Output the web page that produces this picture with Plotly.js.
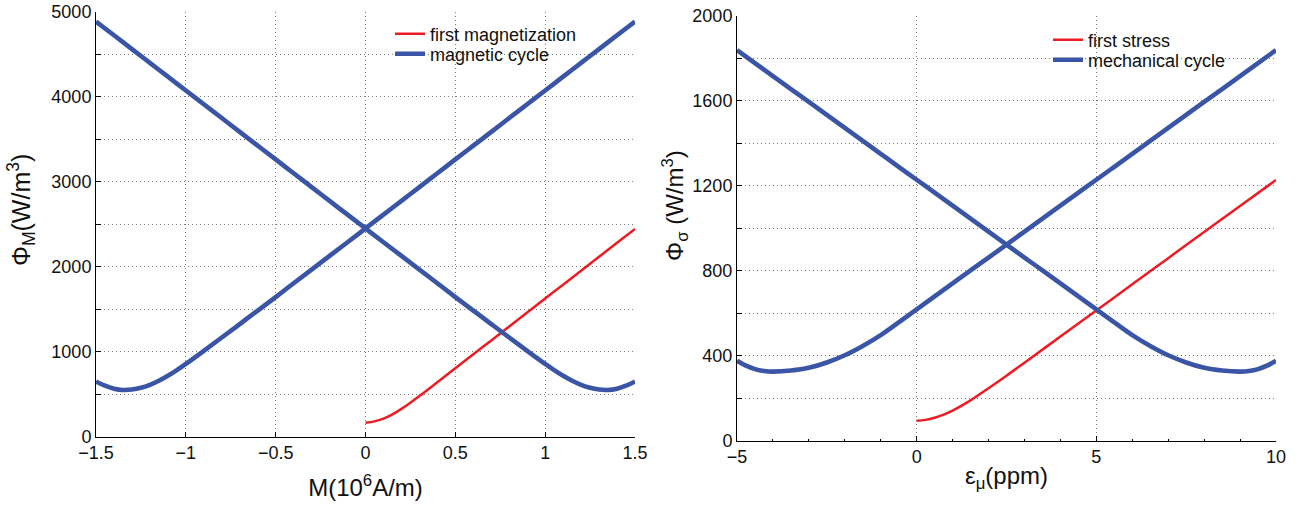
<!DOCTYPE html>
<html>
<head>
<meta charset="utf-8">
<script src="https://cdn.plot.ly/plotly-3.0.1.min.js"></script>
<style>html,body{margin:0;padding:0;background:#fff;}#chart{width:1303px;height:506px;}</style>
</head>
<body>
<div id="chart"></div>
<script>
// ---------- Left panel: magnetic ----------
const mUp = [-1.5,-1.45,-1.4,-1.35,-1.3,-1.25,-1.2,-1.15,-1.1,-1.05,-1.0,-0.9,-0.8,-0.7,-0.6,-0.5,-0.4,-0.3,-0.2,-0.1,0,0.1,0.2,0.3,0.4,0.5,0.6,0.7,0.8,0.9,1.0,1.1,1.2,1.3,1.4,1.5];
const phiMUp = [650,600,565,550,555,575,610,658,716,783,856,1010,1167,1325,1484,1643,1805,1966,2127,2288,2450,2612,2774,2937,3099,3262,3424,3586,3749,3911,4073,4236,4398,4560,4723,4885];
const mDown = [1.5,1.45,1.4,1.35,1.3,1.25,1.2,1.15,1.1,1.05,1.0,0.9,0.8,0.7,0.6,0.5,0.4,0.3,0.2,0.1,0,-0.1,-0.2,-0.3,-0.4,-0.5,-0.6,-0.7,-0.8,-0.9,-1.0,-1.1,-1.2,-1.3,-1.4,-1.5];
const phiMDown = [650,600,565,550,555,575,610,658,716,783,856,1010,1167,1325,1484,1643,1805,1966,2127,2288,2450,2612,2774,2937,3099,3262,3424,3586,3749,3911,4073,4236,4398,4560,4723,4885];
const mFirst = [0,0.05,0.1,0.15,0.2,0.25,0.3,0.4,0.5,0.6,0.7,0.8,0.9,1.0,1.1,1.2,1.3,1.4,1.5];
const phiMFirst = [165,180,212,262,327,400,478,641,805,969,1133,1297,1461,1625,1789,1953,2117,2281,2445];

// ---------- Right panel: mechanical ----------
const eUp = [-5,-4.75,-4.5,-4.25,-4,-3.5,-3,-2.5,-2,-1.5,-1,-0.5,0,0.5,1,1.5,2,2.5,3,3.5,4,4.5,5,5.5,6,6.5,7,7.5,8,8.5,9,9.5,10];
const phiSUp = [376,353,337,328,325,330,343,368,402,446,497,557,618,679,740,801,862,923,984,1045,1106,1167,1228,1289,1350,1411,1472,1533,1594,1655,1716,1777,1838];
const eDown = [10,9.75,9.5,9.25,9,8.5,8,7.5,7,6.5,6,5.5,5,4.5,4,3.5,3,2.5,2,1.5,1,0.5,0,-0.5,-1,-1.5,-2,-2.5,-3,-3.5,-4,-4.5,-5];
const phiSDown = [376,353,337,328,325,330,343,368,402,446,497,557,618,679,740,801,862,923,984,1045,1106,1167,1228,1289,1350,1411,1472,1533,1594,1655,1716,1777,1838];
const eFirst = [0,0.25,0.5,0.75,1,1.5,2,2.5,3,4,5,6,7,8,9,10];
const phiSFirst = [94,98,108,123,142,190,247,306,367,490,613,736,859,982,1105,1227];

const labels = {
  firstM: 'first magnetization', cycleM: 'magnetic cycle',
  firstS: 'first stress', cycleS: 'mechanical cycle',
  xM: 'M(10<sup>6</sup>A/m)', yM: 'Φ<sub>M</sub>(W/m<sup>3</sup>)',
  xS: 'ε<sub>μ</sub>(ppm)', yS: 'Φ<sub>σ</sub> (W/m<sup>3</sup>)'
};

const RED = '#ED1C24', BLUE = '#3A55A5';
const FONT = 'Liberation Sans, Arial, Helvetica, sans-serif';
const W = 1303, H = 506;

function loop(a, b) { return a.concat([null], b); }

const traces = [
  {x: mFirst, y: phiMFirst, name: labels.firstM, mode: 'lines', line: {color: RED, width: 2.5, shape: 'spline'}, xaxis: 'x', yaxis: 'y', legend: 'legend'},
  {x: loop(mUp, mDown), y: loop(phiMUp, phiMDown), name: labels.cycleM, mode: 'lines', connectgaps: false, line: {color: BLUE, width: 4.6, shape: 'spline'}, xaxis: 'x', yaxis: 'y', legend: 'legend2'},
  {x: eFirst, y: phiSFirst, name: labels.firstS, mode: 'lines', line: {color: RED, width: 2.5, shape: 'spline'}, xaxis: 'x2', yaxis: 'y2', legend: 'legend3'},
  {x: loop(eUp, eDown), y: loop(phiSUp, phiSDown), name: labels.cycleS, mode: 'lines', connectgaps: false, line: {color: BLUE, width: 4.6, shape: 'spline'}, xaxis: 'x2', yaxis: 'y2', legend: 'legend4'}
];

const GRID = '#7a7a7a', DASH = '1px,3px';
const axBase = {
  showline: true, linecolor: '#000', linewidth: 1,
  ticks: 'inside', ticklen: 5, tickcolor: '#000', tickwidth: 1,
  showgrid: true, gridcolor: GRID, griddash: DASH, gridwidth: 1,
  zeroline: false, tickfont: {family: FONT, size: 18, color: '#111'},
  mirror: false, fixedrange: true
};

function leg(xpx, ypx) {
  return {
    x: xpx / W, y: 1 - ypx / H, xanchor: 'left', yanchor: 'middle',
    bgcolor: 'rgba(255,255,255,0)', borderwidth: 0,
    font: {family: FONT, size: 18, color: '#111'}
  };
}

const layout = {
  width: W, height: H,
  margin: {l: 0, r: 0, t: 0, b: 0},
  paper_bgcolor: '#fff', plot_bgcolor: '#fff',
  font: {family: FONT, color: '#111'},
  showlegend: true,
  xaxis: Object.assign({}, axBase, {
    domain: [96/W, 635/W], range: [-1.5, 1.5], dtick: 0.5, tick0: 0, anchor: 'y',
    title: {text: labels.xM, font: {family: FONT, size: 24, color: '#111'}, standoff: 16}
  }),
  yaxis: Object.assign({}, axBase, {
    domain: [1 - 436.7/H, 1 - 11.7/H], range: [0, 5000], dtick: 1000, tick0: 0, anchor: 'x',
    minor: {dtick: 500, showgrid: true, gridcolor: GRID, griddash: DASH, ticks: 'inside', ticklen: 5, tickcolor: '#000'}
  }),
  xaxis2: Object.assign({}, axBase, {
    domain: [737/W, 1276/W], range: [-5, 10], dtick: 5, tick0: 0, anchor: 'y2',
    minor: {dtick: 1, showgrid: false, ticks: 'inside', ticklen: 2, tickcolor: '#000'},
    title: {text: labels.xS, font: {family: FONT, size: 24, color: '#111'}, standoff: 0}
  }),
  yaxis2: Object.assign({}, axBase, {
    domain: [1 - 440.7/H, 1 - 15.7/H], range: [0, 2000], dtick: 400, tick0: 0, anchor: 'x2',
    minor: {dtick: 200, showgrid: true, gridcolor: GRID, griddash: DASH, ticks: 'inside', ticklen: 5, tickcolor: '#000'}
  }),
  legend: leg(390, 34),
  legend2: leg(390, 54),
  legend3: leg(1048, 40),
  legend4: leg(1048, 60),
  annotations: [
    {text: labels.yM, textangle: -90, xref: 'paper', yref: 'paper', x: 21/W, y: 1 - 210/H,
     xanchor: 'center', yanchor: 'middle', showarrow: false, font: {family: FONT, size: 25, color: '#111'}},
    {text: labels.yS, textangle: -90, xref: 'paper', yref: 'paper', x: 675/W, y: 1 - 206/H,
     xanchor: 'center', yanchor: 'middle', showarrow: false, font: {family: FONT, size: 24, color: '#111'}}
  ]
};

Plotly.newPlot('chart', traces, layout, {staticPlot: true, displayModeBar: false});
</script>
</body>
</html>
